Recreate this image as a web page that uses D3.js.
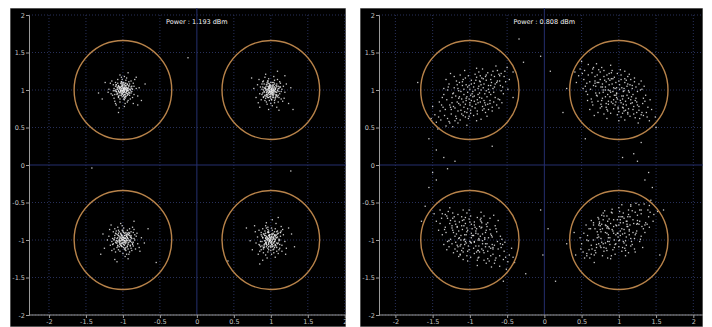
<!DOCTYPE html>
<html>
<head>
<meta charset="utf-8">
<script src="https://cdn.jsdelivr.net/npm/d3@7"></script>
<style>
  html, body { margin: 0; padding: 0; background: #fff; }
  svg { display: block; }
</style>
</head>
<body>
<svg id="chart" width="712" height="327"></svg>
<script>
// Axis ticks shared by both constellation panels
const xTicks = [-2, -1.5, -1, -0.5, 0, 0.5, 1, 1.5, 2];
const yTicks = [-2, -1.5, -1, -0.5, 0, 0.5, 1, 1.5, 2];
const tickText = ["-2", "-1.5", "-1", "-0.5", "0", "0.5", "1", "1.5", "2"];

// QPSK ideal symbol positions and decision circle radius
const symbols = [[-1, 1], [1, 1], [-1, -1], [1, -1]];
const circleRadius = 0.66;

const panelTitles = ["Power : 1.193 dBm", "Power : 0.808 dBm"];

// Cluster centres per panel (same order as symbols)
const centersA = [[-1.0, 1.0], [1.0, 0.99], [-0.99, -0.99], [0.99, -0.99]];
const centersB = [[-0.97, 0.92], [0.95, 0.95], [-0.95, -0.95], [0.97, -0.9]];

// Received samples, offsets from cluster centre in hundredths (panel A, 1.193 dBm)
const a1 = [[3,2],[-5,4],[8,-3],[-2,-7],[12,5],[-9,-2],[1,10],[6,8],[-4,-12],[15,-6],[-13,7],[2,-1],[-7,14],[9,1],[-1,5],[4,-9],[-16,-5],[11,12],[-3,0],[0,-4],[7,-14],[-10,10],[5,3],[-6,-8],[18,2],[-2,17],[13,-10],[-8,4],[3,-18],[-12,-11],[1,1],[-4,3],[6,-5],[-19,1],[10,-1],[0,8],[-6,-2],[14,9],[-11,-15],[4,13],[-1,-9],[8,6],[-15,12],[2,-13],[20,-8],[-7,-5],[5,16],[-3,9],[12,-2],[-9,7],[0,-1],[3,6],[-5,-3],[7,2],[-2,11],[9,-7],[-14,-7],[16,14],[-20,-3],[2,-22],[-4,20],[22,3],[6,-16],[-10,-18],[11,4],[-1,-6],[4,-4],[-8,1],[1,-3],[-3,-1],[2,3],[5,-1],[-6,5],[8,11],[-12,2],[13,1],[-17,9],[3,-11],[-1,14],[10,-12],[-24,10],[25,-14],[-5,-24],[7,23],[-28,-12],[18,17],[-9,-20],[14,-18],[0,2],[-2,-4],[6,0],[-7,9],[1,-8],[4,9],[-11,-6],[9,-4],[-4,-16],[15,5],[-13,-1],[2,18],[30,8],[-6,-30],[-33,-4],[20,-20]];
const a2 = [[-2,4],[6,-1],[-8,-6],[4,11],[11,3],[-5,9],[1,-12],[-12,2],[7,-8],[-3,-3],[14,-11],[-10,13],[3,1],[0,6],[-6,-15],[9,15],[-15,-4],[17,6],[-1,-8],[5,5],[-4,0],[2,-5],[-9,4],[12,-4],[-7,-10],[8,9],[-18,8],[19,-2],[0,-17],[-3,16],[10,-15],[-13,-12],[6,2],[-2,-1],[1,3],[-5,6],[4,-3],[-11,-3],[13,10],[-8,18],[2,-20],[16,-14],[-16,15],[3,7],[-1,-2],[7,-6],[-6,1],[9,0],[-4,-9],[0,11],[11,-9],[-10,-8],[5,14],[-14,5],[15,2],[-2,-13],[4,19],[-20,-9],[21,9],[-7,22],[8,-22],[1,0],[-3,5],[6,-11],[-9,-1],[3,-7],[-5,-5],[10,6],[-12,9],[12,12],[-1,8],[2,-2],[-7,3],[5,-16],[-17,-16],[18,-10],[-4,13],[7,4],[0,-5],[-8,-13],[14,-1],[-11,12],[24,-17],[-23,3],[9,26],[-3,-25],[27,4],[-15,-22],[11,-26],[-26,17],[1,2],[-2,6],[4,0],[-6,-7],[8,-2],[-3,10],[3,-9],[-10,1],[13,5],[-5,-18],[30,-25],[19,20]];
const a3 = [[1,-2],[-7,5],[9,3],[-3,-9],[5,12],[-11,-4],[12,-7],[-4,8],[2,-14],[-14,10],[7,7],[-1,0],[15,-1],[-9,-11],[4,4],[-6,-1],[10,-12],[-16,-3],[0,15],[6,-5],[-2,3],[-12,14],[13,9],[-5,-16],[3,-4],[-8,2],[17,4],[-18,-8],[8,-17],[-10,7],[1,8],[-3,-6],[11,1],[-13,-13],[5,-9],[-7,12],[14,13],[-1,-19],[19,-6],[-20,4],[2,1],[-4,-2],[6,6],[-9,-5],[9,-3],[-6,10],[3,-11],[-15,1],[16,-13],[-2,18],[4,-20],[-11,-17],[12,16],[-19,13],[21,-11],[-5,2],[7,-1],[0,-7],[-8,-9],[10,10],[-3,5],[1,-4],[5,2],[-10,-2],[13,-4],[-7,-14],[8,14],[-14,-6],[18,8],[-22,-1],[2,-23],[-4,21],[22,-16],[-17,19],[6,-26],[-26,-12],[24,2],[0,3],[-2,-10],[3,9],[-6,-4],[9,-9],[-12,5],[11,-15],[-1,12],[15,6],[-16,-15],[4,-1],[-8,16],[7,-20],[-28,7],[28,-5],[-12,-27],[14,24],[-31,-20],[-9,-30],[33,14],[-2,-1],[4,6],[-5,-7],[6,-13],[-13,-1],[10,3]];
const a4 = [[2,3],[-6,-4],[8,6],[-2,11],[11,-5],[-10,2],[5,-13],[-4,-8],[14,9],[-13,-10],[0,-2],[7,14],[-8,7],[3,-9],[-1,4],[12,0],[-15,12],[9,-16],[-5,15],[16,-8],[-3,-17],[1,1],[-7,-2],[6,-3],[-11,-9],[10,11],[-2,-5],[4,7],[-9,-13],[13,-12],[-17,3],[18,6],[-6,18],[2,-20],[-14,-16],[15,17],[-1,-1],[5,0],[-4,2],[8,-9],[-12,9],[3,12],[-8,-7],[11,-19],[-19,-5],[20,-3],[-5,22],[7,-24],[0,6],[-3,-12],[9,2],[-10,14],[12,-14],[-16,-20],[17,13],[-7,5],[4,-5],[-2,9],[6,10],[-13,-3],[10,-6],[1,-15],[-9,-18],[14,4],[-20,10],[22,-12],[-4,-25],[3,26],[-24,-14],[25,15],[-1,-3],[2,-7],[-5,0],[7,4],[-8,-11],[11,8],[-11,4],[5,-18],[-3,16],[13,-1],[-15,-7],[16,-16],[-6,-21],[8,21],[-21,18],[21,-20],[0,-9],[-2,5],[4,3],[-7,11],[9,-11],[-12,-14],[15,11],[-27,-2],[29,7],[-10,-28],[11,29],[-32,15],[-14,-33],[33,-10],[1,-5],[-3,1]];
// dense cores of the panel A clusters
const a1core = [[2,1],[-3,4],[5,-2],[-1,-5],[7,3],[-6,-1],[0,6],[4,5],[-4,-7],[8,-4],[-7,3],[1,0],[-2,8],[5,1],[0,3],[3,-6],[-9,-2],[6,7],[-2,0],[1,-3],[4,-8],[-6,6],[3,2],[-4,-4],[10,1],[-1,10],[7,-6],[-5,2],[2,-10],[-8,-6],[0,0],[-2,2],[3,-3],[-10,0],[6,-1],[0,4],[-3,-2],[8,5],[-6,-9],[2,7],[-1,-4],[4,3],[-9,7],[1,-7],[11,-4],[-4,-3],[3,9],[-2,5],[7,-1],[-5,4],[1,2],[2,4],[-3,-1],[4,1],[-1,6],[5,-4],[-8,-4],[9,8],[-11,-1],[1,-12],[-2,11],[12,2],[3,-9],[-6,-10],[6,2],[-1,-2],[2,-2],[-4,1],[0,-1],[-1,-1],[1,1],[3,0],[-3,3],[4,6],[-7,1],[7,0],[-10,5],[2,-6],[0,8],[6,-7]];
const a2core = [[-1,2],[4,-1],[-5,-3],[2,6],[6,2],[-3,5],[0,-7],[-7,1],[4,-5],[-2,-2],[8,-6],[-6,8],[2,0],[0,4],[-3,-9],[5,9],[-9,-2],[10,3],[0,-4],[3,3],[-2,0],[1,-3],[-5,2],[7,-2],[-4,-6],[4,5],[-11,5],[11,-1],[0,-10],[-2,9],[6,-9],[-8,-7],[3,1],[-1,-1],[1,2],[-3,3],[2,-2],[-6,-2],[8,6],[-5,11],[1,-12],[9,-8],[-9,9],[2,4],[-1,-1],[4,-3],[-3,1],[5,0],[-2,-5],[0,7],[7,-5],[-6,-5],[3,8],[-8,3],[9,1],[-1,-8],[2,11],[-12,-5],[12,5],[-4,13],[5,-13],[0,1],[-2,3],[3,-6],[-5,-1],[2,-4],[-3,-3],[6,3],[-7,5],[7,7],[-1,5],[1,-1],[-4,2],[3,-9],[-10,-9],[10,-6],[-2,7],[4,2],[0,-3],[-5,-8]];
const a3core = [[0,-1],[-4,3],[5,2],[-2,-5],[3,7],[-6,-2],[7,-4],[-2,5],[1,-8],[-8,6],[4,4],[-1,0],[9,-1],[-5,-6],[2,2],[-3,-1],[6,-7],[-9,-2],[0,9],[3,-3],[-1,2],[-7,8],[8,5],[-3,-9],[2,-2],[-5,1],[10,2],[-10,-5],[5,-10],[-6,4],[1,5],[-2,-4],[6,1],[-8,-8],[3,-5],[-4,7],[8,8],[0,-11],[11,-4],[-12,2],[1,1],[-2,-1],[4,4],[-5,-3],[5,-2],[-3,6],[2,-6],[-9,1],[9,-8],[-1,10],[2,-12],[-6,-10],[7,9],[-11,8],[12,-6],[-3,1],[4,-1],[0,-4],[-5,-5],[6,6],[-2,3],[1,-2],[3,1],[-6,-1],[8,-2],[-4,-8],[5,8],[-8,-3],[10,5],[-13,0],[1,-13],[-2,12],[13,-9],[-10,11],[3,-15],[-15,-7],[14,1],[0,2],[-1,-6],[2,5]];
const a4core = [[1,2],[-3,-2],[5,3],[-1,6],[6,-3],[-6,1],[3,-7],[-2,-5],[8,5],[-7,-6],[0,-1],[4,8],[-5,4],[2,-5],[-1,2],[7,0],[-9,7],[5,-9],[-3,9],[9,-5],[-2,-10],[1,0],[-4,-1],[3,-2],[-6,-5],[6,6],[-1,-3],[2,4],[-5,-7],[7,-7],[-10,2],[10,3],[-3,10],[1,-11],[-8,-9],[9,10],[-1,-1],[3,0],[-2,1],[5,-5],[-7,5],[2,7],[-5,-4],[6,-11],[-11,-3],[12,-2],[-3,13],[4,-14],[0,3],[-2,-7],[5,1],[-6,8],[7,-8],[-9,-11],[10,7],[-4,3],[2,-3],[-1,5],[3,6],[-7,-2],[6,-3],[1,-9],[-5,-10],[8,2],[-12,6],[13,-7],[-2,-14],[2,15],[-14,-8],[14,9],[0,-2],[1,-4],[-3,0],[4,2],[-5,-6],[6,5],[-6,2],[3,-10],[-2,9],[7,-1]];
const strayA = [[-0.12,1.43],[-1.42,-0.04],[1.27,-0.08],[-0.55,-1.3],[0.42,-1.28]];

// Received samples, offsets from cluster centre in hundredths (panel B, 0.808 dBm)
const b1 = [[12,8],[-18,-3],[25,14],[-7,-22],[3,17],[-29,-15],[16,-6],[-11,9],[34,20],[-3,-9],[8,2],[-22,-27],[19,28],[-15,6],[41,12],[-36,-18],[0,-14],[6,25],[-26,3],[14,-19],[-9,-11],[29,5],[-4,14],[21,31],[-33,-30],[10,-2],[-17,18],[2,-26],[37,27],[-20,-8],[15,11],[-2,1],[-41,-12],[24,-10],[-12,22],[7,-5],[-30,-36],[31,16],[-6,-17],[17,3],[-24,11],[44,33],[1,6],[-14,-24],[27,-15],[-38,2],[11,19],[-8,-3],[22,9],[-19,-20],[4,29],[35,-4],[-27,-9],[13,24],[-5,-30],[-45,-28],[26,18],[-1,-6],[18,-22],[-31,16],[9,13],[-16,-12],[39,7],[-10,34],[5,-11],[-23,-33],[30,26],[-3,9],[20,-1],[-34,-5],[12,-31],[-13,14],[47,38],[-7,-1],[23,5],[-28,-24],[6,37],[-21,20],[33,-12],[-48,-35],[16,16],[-2,-19],[10,4],[-25,-14],[28,33],[-9,24],[40,-9],[-35,-40],[3,-7],[-18,7],[19,21],[-40,-2],[7,-24],[25,2],[-12,-8],[36,29],[-6,12],[14,-14],[-29,30],[0,3],[-16,-32],[22,14],[-43,-20],[31,-2],[-4,-27],[11,27],[-22,0],[45,19],[-8,15],[17,-9],[-37,-26],[8,10],[-14,-4],[32,40],[-26,-41],[4,-16],[-1,21],[24,-6],[-32,12],[15,23],[-11,-15],[38,14],[-19,-36],[2,12],[-53,-14],[20,-27],[-6,5],[28,10],[-24,26],[50,22],[-10,-21],[13,-3],[-30,-12],[9,32],[-17,-1],[36,-16],[-42,-32],[5,21],[-3,-12],[26,28],[-20,15],[42,3],[-9,-28],[1,-1],[-33,8],[18,-12],[-15,-19],[34,34],[-39,-15],[6,-33],[-5,27],[22,-18],[-27,-2],[12,15],[-46,-44],[29,-8],[-13,19],[43,26],[-21,-30],[8,-9],[-35,22],[19,7],[-7,-39],[39,30],[-11,2],[27,-20],[-28,-18],[14,36],[-50,-25],[3,0],[-19,10],[30,12],[-2,-23],[16,-17],[-44,-8],[48,9],[-23,-16],[10,20],[-8,-6],[33,18],[-31,-34],[-1,16],[21,-11],[-16,28],[55,32],[-55,-30],[7,-20],[-25,4],[37,-5],[-12,-26],[18,26],[-38,10],[4,8],[-4,-4],[25,22],[-18,-10],[11,-8]];
const b2 = [[10,-7],[-16,5],[23,-12],[-5,20],[4,-18],[-27,14],[18,4],[-9,-10],[32,-22],[-2,8],[9,-3],[-24,25],[17,-27],[-13,-4],[40,-10],[-34,16],[1,15],[5,-24],[-25,-2],[13,20],[-8,12],[28,-6],[-3,-13],[20,-30],[-31,28],[11,3],[-18,-17],[3,27],[36,-25],[-19,9],[14,-10],[-1,-2],[-40,10],[23,11],[-11,-21],[6,6],[-29,35],[30,-15],[-7,18],[16,-2],[-23,-10],[43,-31],[2,-5],[-15,23],[26,16],[-37,-1],[10,-18],[-7,4],[21,-8],[-20,19],[3,-28],[34,5],[-26,10],[12,-23],[-4,31],[-44,27],[25,-17],[0,7],[17,23],[-30,-15],[8,-12],[-17,13],[38,-6],[-11,-33],[6,12],[-22,32],[29,-25],[-2,-8],[19,2],[-33,6],[13,30],[-12,-13],[46,-36],[-6,2],[22,-4],[-27,23],[5,-36],[-20,-19],[32,13],[-47,33],[15,-15],[-3,20],[11,-3],[-24,15],[27,-32],[-10,-23],[39,10],[-36,39],[2,8],[-17,-6],[18,-20],[-39,3],[8,25],[24,-1],[-13,9],[35,-28],[-5,-11],[13,15],[-28,-29],[1,-2],[-15,31],[21,-13],[-42,19],[30,3],[-5,28],[10,-26],[-21,1],[44,-18],[-9,-14],[16,10],[-36,25],[7,-9],[-13,5],[31,-39],[-25,40],[5,17],[-2,-20],[23,7],[-31,-11],[14,-22],[-12,16],[37,-13],[-18,35],[1,-11],[-52,15],[19,26],[-7,-4],[27,-9],[-23,-25],[49,-21],[-9,20],[12,4],[-29,11],[8,-31],[-16,2],[35,17],[-41,31],[4,-20],[-4,13],[25,-27],[-19,-14],[41,-2],[-8,27],[2,0],[-32,-7],[17,13],[-14,18],[33,-33],[-38,14],[7,32],[-6,-26],[21,19],[-26,1],[11,-14],[-45,43],[28,9],[-12,-18],[42,-25],[-20,29],[9,8],[-34,-21],[18,-6],[-6,38],[38,-29],[-10,-1],[26,21],[-27,17],[13,-35],[-49,24],[2,1],[-18,-9],[29,-11],[-1,22],[15,18],[-43,7],[47,-8],[-22,15],[11,-19],[-9,5],[32,-17],[-30,33],[0,-15],[20,12],[-15,-27],[54,-31],[-54,29],[8,19],[-24,-3],[36,6],[-11,25],[17,-25],[-37,-9],[3,-7],[-3,3],[24,-21],[-17,9],[12,7]];
const b3 = [[-9,6],[15,-4],[-22,13],[6,-19],[-3,16],[26,-15],[-17,-5],[10,11],[-31,21],[1,-7],[-10,2],[23,-26],[-16,26],[12,3],[-39,9],[33,-17],[0,-16],[-6,23],[24,1],[-14,-21],[7,-13],[-27,5],[2,12],[-21,29],[30,-29],[-12,-4],[17,16],[-4,-28],[-35,24],[18,-10],[-15,9],[0,1],[39,-11],[-22,-12],[10,20],[-5,-7],[28,-36],[-29,14],[6,-19],[-17,1],[22,9],[-42,30],[-3,4],[14,-22],[-25,-17],[36,0],[-11,17],[6,-5],[-20,7],[19,-20],[-4,27],[-33,-6],[25,-11],[-13,22],[5,-32],[43,-28],[-24,16],[1,-8],[-18,-24],[29,14],[-9,11],[16,-14],[-37,5],[10,32],[-7,-13],[21,-33],[-28,24],[3,7],[-20,-3],[32,-7],[-14,-31],[11,12],[-45,35],[7,-3],[-23,3],[26,-24],[-6,35],[19,18],[-33,-14],[46,-34],[-16,14],[4,-21],[-12,2],[23,-16],[-28,31],[9,22],[-40,-11],[35,-40],[-3,-9],[16,5],[-19,19],[38,-4],[-9,-26],[-25,0],[12,-10],[-36,27],[4,10],[-14,-16],[27,28],[-2,1],[14,-32],[-22,12],[41,-20],[-31,-4],[6,-29],[-11,25],[20,-2],[-45,17],[8,13],[-17,-11],[35,-26],[-8,8],[12,-6],[-32,38],[24,-41],[-6,-18],[1,19],[-24,-8],[30,10],[-15,21],[11,-17],[-38,12],[17,-36],[-2,10],[51,-16],[-20,-27],[6,3],[-28,8],[22,24],[-50,20],[8,-21],[-13,-5],[28,-12],[-9,31],[15,-2],[-36,-18],[40,-31],[-5,19],[3,-13],[-26,26],[18,13],[-42,2],[7,-28],[-1,1],[31,6],[-18,-13],[13,-19],[-34,33],[37,-15],[-8,-33],[5,25],[-22,-20],[25,-1],[-13,14],[44,-44],[-29,-10],[11,18],[-43,24],[19,-30],[-10,-9],[33,21],[-19,-2],[5,-39],[-38,29],[9,0],[-27,-22],[26,-17],[-14,35],[48,-25],[-3,-2],[17,8],[-29,11],[1,-23],[-16,-19],[42,-8],[-47,8],[21,-14],[-12,-11],[8,-5],[-32,17],[29,-32],[1,15],[-21,-14],[14,27],[-53,30],[53,-28],[-8,-20],[23,3],[-35,-7],[10,24],[-18,-25],[36,-10],[-4,-8],[3,4],[-25,20],[16,-10],[-11,-7]];
const b4 = [[-11,-7],[17,4],[-24,-15],[8,21],[-2,-16],[28,12],[-19,5],[12,-11],[-33,-22],[3,10],[-11,-3],[25,27],[-17,-25],[13,-6],[-38,-11],[31,15],[1,17],[-5,-23],[26,-1],[-13,22],[9,13],[-25,-3],[4,-10],[-19,-31],[33,30],[-10,5],[19,-18],[-6,26],[-37,-23],[15,8],[-12,-12],[2,-1],[41,11],[-24,10],[8,-20],[-4,8],[30,37],[-27,-16],[5,17],[-15,0],[24,-8],[-40,-31],[-1,-3],[16,24],[-23,14],[38,0],[-9,-16],[7,5],[-21,-8],[18,21],[-2,-29],[-35,5],[27,11],[-14,-21],[3,33],[45,27],[-22,-18],[0,9],[-17,22],[31,-12],[-10,-12],[14,15],[-39,-4],[12,-31],[-8,12],[19,35],[-29,-24],[2,-6],[-22,4],[34,8],[-16,29],[9,-12],[-43,-34],[5,2],[-24,-6],[28,23],[-8,-35],[21,-16],[-31,13],[44,36],[-18,-15],[6,21],[-13,-1],[22,17],[-30,-30],[11,-21],[-41,10],[37,38],[-1,10],[17,-3],[-21,-20],[36,5],[-7,27],[-26,1],[14,11],[-34,-29],[3,-11],[-12,15],[25,-26],[-4,-1],[16,30],[-20,-13],[43,21],[-29,5],[4,28],[-13,-24],[22,0],[-47,-15],[10,-14],[-15,10],[33,25],[-9,-7],[14,8],[-30,-40],[26,39],[-4,17],[3,-19],[-22,9],[32,-9],[-17,-20],[13,15],[-40,-10],[19,37],[-3,-10],[49,15],[-18,26],[8,-2],[-26,-7],[24,-22],[-48,-22],[10,19],[-11,6],[30,11],[-7,-31],[17,2],[-34,16],[42,30],[-3,-20],[5,13],[-28,-27],[20,-12],[-44,-1],[9,26],[1,-1],[33,-5],[-20,11],[15,21],[-36,-34],[39,13],[-6,31],[7,-25],[-24,18],[27,2],[-15,-14],[46,43],[-31,10],[13,-17],[-45,-26],[21,29],[-12,8],[35,-20],[-21,1],[7,37],[-40,-28],[11,-1],[-25,20],[28,16],[-12,-34],[50,24],[-5,2],[19,-8],[-31,-10],[3,21],[-18,17],[44,7],[-49,-7],[23,12],[-14,9],[10,4],[-34,-17],[31,30],[-1,-15],[-23,12],[16,-27],[-55,-30],[55,28],[-10,18],[25,-3],[-37,5],[12,-24],[-20,23],[38,10],[-6,4],[5,-4],[-27,-20],[18,10],[-13,6]];
const strayB = [[-0.34,1.68],[-0.28,1.37],[-0.05,1.45],[0.08,1.25],[-0.6,1.12],[-0.42,0.9],[0.3,1.02],[0.25,0.7],[-1.55,0.35],[-1.45,0.2],[-1.35,0.1],[-1.2,0.05],[-1.5,-0.1],[-1.45,-0.2],[-1.55,-0.3],[-1.3,-0.05],[1.2,0.15],[1.25,0.05],[1.05,0.1],[1.4,-0.1],[1.35,-0.2],[1.45,-0.3],[1.3,0.3],[1.5,0.5],[-0.05,-0.6],[0.05,-0.85],[-0.02,-1.2],[-0.25,-1.45],[0.15,-1.55],[-0.4,-1.3],[0.3,-1.05],[0.4,-0.9],[-0.55,-1.55],[-1.6,-0.55],[-1.65,-0.75],[1.6,-0.6],[1.55,-1.2],[-1.7,1.1],[0.55,0.35],[-0.7,0.25]];

// Panel frames in page pixels
const panels = [
  { left: 10, right: 346, top: 8, bottom: 327, xDomain: [-2.27, 2.03], xRange: [29, 347],
    title: panelTitles[0], centers: centersA,
    clusters: [a1.concat(a1core), a2.concat(a2core), a3.concat(a3core), a4.concat(a4core)], stray: strayA },
  { left: 360, right: 703, top: 8, bottom: 327, xDomain: [-2.22, 2.13], xRange: [379, 703],
    title: panelTitles[1], centers: centersB, clusters: [b1, b2, b3, b4], stray: strayB }
];

const svg = d3.select("#chart");
const gridColor = "#28305a";
const zeroColor = "#252f6e";
const axisColor = "#9a9a9a";
const labelColor = "#c4c4c4";
const ringColor = "#b8834a";

panels.forEach((p, i) => {
  const clipId = "clip" + i;
  svg.append("clipPath").attr("id", clipId)
    .append("rect").attr("x", p.left).attr("y", p.top)
    .attr("width", p.right - p.left).attr("height", p.bottom - p.top);

  const g = svg.append("g").attr("clip-path", `url(#${clipId})`);

  g.append("rect")
    .attr("x", p.left).attr("y", p.top)
    .attr("width", p.right - p.left).attr("height", p.bottom - p.top)
    .attr("fill", "#000").attr("stroke", "#a8a8a8").attr("stroke-width", 1);

  const x = d3.scaleLinear().domain(p.xDomain).range(p.xRange);
  const y = d3.scaleLinear().domain([-2, 2]).range([315, 15]);

  // dotted grid at each tick; solid lines through the origin
  g.selectAll(".vg").data(xTicks).join("line")
    .attr("x1", d => x(d)).attr("x2", d => x(d))
    .attr("y1", d => d === 0 ? p.top : y(2)).attr("y2", y(-2))
    .attr("stroke", d => d === 0 ? zeroColor : gridColor)
    .attr("stroke-width", 1)
    .attr("stroke-dasharray", d => d === 0 ? null : "1,2");
  g.selectAll(".hg").data(yTicks).join("line")
    .attr("x1", x(p.xDomain[0])).attr("x2", p.right)
    .attr("y1", d => y(d)).attr("y2", d => y(d))
    .attr("stroke", d => d === 0 ? zeroColor : gridColor)
    .attr("stroke-width", 1)
    .attr("stroke-dasharray", d => d === 0 ? null : "1,2");

  // received samples
  const pts = [];
  p.clusters.forEach((c, k) => {
    const [cx, cy] = p.centers[k];
    c.forEach(([dx, dy]) => pts.push([cx + dx / 100, cy + dy / 100]));
  });
  p.stray.forEach(s => pts.push(s));

  g.selectAll(".pt").data(pts).join("rect")
    .attr("x", d => x(d[0]) - 0.65).attr("y", d => y(d[1]) - 0.65)
    .attr("width", 1.3).attr("height", 1.3)
    .attr("fill", "#eeeeee").attr("opacity", 0.85);

  // decision circles around ideal symbols
  g.selectAll(".ring").data(symbols).join("ellipse")
    .attr("cx", d => x(d[0])).attr("cy", d => y(d[1]))
    .attr("rx", x(circleRadius) - x(0)).attr("ry", y(0) - y(circleRadius))
    .attr("fill", "none").attr("stroke", ringColor).attr("stroke-width", 1.4);

  // axes
  const x0 = x(p.xDomain[0]);
  const yAxis = g.append("g").attr("transform", `translate(${x0},0)`)
    .call(d3.axisLeft(y).tickValues(yTicks).tickFormat((d, j) => tickText[j]).tickSize(3).tickPadding(1));
  const xAxis = g.append("g").attr("transform", `translate(0,${y(-2)})`)
    .call(d3.axisBottom(x).tickValues(xTicks).tickFormat((d, j) => tickText[j]).tickSize(3).tickPadding(1));
  [xAxis, yAxis].forEach(ax => {
    ax.select(".domain").attr("stroke", axisColor);
    ax.selectAll(".tick line").attr("stroke", axisColor);
    ax.selectAll("text").attr("fill", labelColor)
      .attr("font-family", "DejaVu Sans, sans-serif").attr("font-size", 6.5);
  });
  xAxis.select(".domain").attr("d", `M${x0},0H${p.right}`);

  g.append("text")
    .attr("x", x(0)).attr("y", 24)
    .attr("text-anchor", "middle")
    .attr("fill", "#f4f4f4")
    .attr("font-family", "DejaVu Sans, sans-serif")
    .attr("font-size", 6.5)
    .text(p.title);
});
</script>
</body>
</html>
